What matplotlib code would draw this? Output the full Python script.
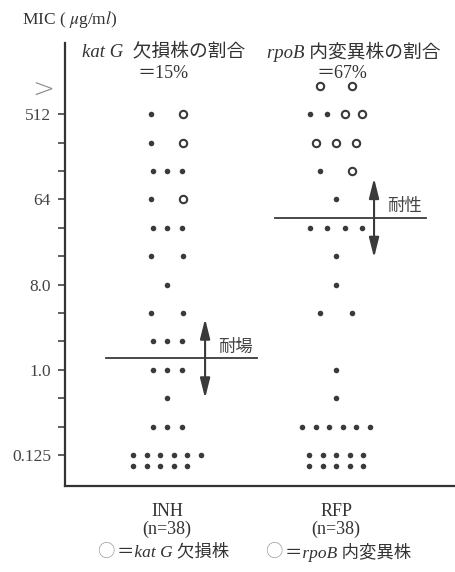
import numpy as np
import matplotlib.pyplot as plt

plt.rcParams['font.family'] = ['Liberation Serif', 'Noto Sans CJK JP']
plt.rcParams['mathtext.fontset'] = 'stix'

# MIC steps: 0 -> 0.125 ug/ml, each step doubles, 13 -> ">512"
levels = np.arange(14)
inh_filled = [11, 3, 1, 3, 3, 2, 1, 2, 3, 1, 3, 1, 1, 0]
inh_open = [0, 0, 0, 0, 0, 0, 0, 0, 0, 1, 0, 1, 1, 0]
rfp_filled = [10, 6, 1, 1, 0, 2, 1, 1, 4, 1, 1, 0, 2, 0]
rfp_open = [0, 0, 0, 0, 0, 0, 0, 0, 0, 0, 1, 3, 2, 2]
drugs = ['INH', 'RFP']
n_total = [38, 38]
breaks = [3.4, 8.35]
break_labels = ['耐場', '耐性']
tick_vals = [0.125, 1.0, 8.0, 64, 512]
tick_text = ['0.125', '1.0', '8.0', '64', '512']

dark = '#3a3a3a'
W, H = 456, 572

fig = plt.figure(figsize=(W / 100, H / 100), dpi=100)
ax = fig.add_axes([65 / W, 1 - 486 / H, 1 - 65 / W, (486 - 43) / H])
ax.set_xlim(0.396, 2.71)
ax.set_ylim(-1.09, 14.51)

px = 1 / 169.  # x units per pixel


def gap(n, has_open):
    if n == 2:
        return 32 * px
    if n == 3:
        return (20 if has_open else 14.5) * px
    if n == 4:
        return 17.5 * px
    return 13.5 * px


for ci, (filled, opened) in enumerate([(inh_filled, inh_open), (rfp_filled, rfp_open)]):
    c = ci + 1
    for lv, nf, no in zip(levels, filled, opened):
        n = nf + no
        if n == 0:
            continue
        kinds = np.array([0] * nf + [1] * no)
        if n > 6:
            per = int(np.ceil(n / 2.))
            rows = [kinds[:per], kinds[per:]]
        else:
            rows = [kinds]
        g = gap(len(rows[0]), no > 0)
        x0 = c - (len(rows[0]) - 1) / 2. * g
        for r, row in enumerate(rows):
            xs = x0 + g * np.arange(len(row))
            ys = np.full(len(row), lv - 0.4 * r)
            ax.plot(xs[row == 0], ys[row == 0], 'o', ms=4, color=dark, mew=0)
            ax.plot(xs[row == 1], ys[row == 1], 'o', ms=5.3, mfc='white',
                    mec=dark, mew=1.5)

# breakpoints
for ci, (b, lab) in enumerate(zip(breaks, break_labels)):
    c = ci + 1
    ax.plot([c - 0.36, c + 0.53], [b, b], color=dark, lw=1.3)
    ax.annotate('', xy=(c + 0.225, b + 1.4), xytext=(c + 0.225, b - 1.4),
                arrowprops=dict(arrowstyle='<|-|>,head_length=1.2,head_width=0.3',
                                color=dark, lw=1.5, shrinkA=0, shrinkB=0))
    ax.text(c + 0.30, b + 0.42, lab, fontsize=12.5, color='#444',
            ha='left', va='center', family='Noto Sans CJK JP')

# axes
for s in ['top', 'right']:
    ax.spines[s].set_visible(False)
for s in ['left', 'bottom']:
    ax.spines[s].set_linewidth(1.6)
    ax.spines[s].set_color('#333')

ax.set_yticks(np.log2(np.array(tick_vals) / 0.125), tick_text)
ax.set_yticks(np.arange(13), minor=True)
ax.tick_params(axis='y', which='both', length=5, width=1.1, color='#333',
               direction='out')
ax.tick_params(axis='y', labelsize=12.5, labelcolor='#444', pad=5)
ax.text(-0.028, 12.85, '>', transform=ax.get_yaxis_transform(), ha='right',
        va='center', fontsize=19, color='#888', family='DejaVu Sans',
        fontweight='ultralight')

ax.set_xticks([1, 2], ['%s\n(n=%d)' % (d, n) for d, n in zip(drugs, n_total)])
ax.tick_params(axis='x', length=0, pad=12, labelsize=13, labelcolor='#333')
for t in ax.get_xticklabels():
    t.set_linespacing(1.08)

# texts
fig.text(22 / W, 1 - 19 / H, r'MIC ( $\mu$g/m$l$)', fontsize=12.5, color='#333',
         ha='left', va='center')
fig.text(82 / W, 1 - 51 / H, 'kat G  欠損株の割合', style='italic', fontsize=13.5,
         color='#333', ha='left', va='center')
fig.text(163 / W, 1 - 73 / H, '＝15%', fontsize=13, color='#333', ha='center',
         va='center')
fig.text(267 / W, 1 - 52 / H, 'rpoB 内変異株の割合', style='italic', fontsize=13.5,
         color='#333', ha='left', va='center')
fig.text(342 / W, 1 - 73 / H, '＝67%', fontsize=13, color='#333', ha='center',
         va='center')

# legend
fig.text(97 / W, 1 - 552 / H, '○', family='Noto Sans CJK JP', fontsize=12.5,
         color='#999', ha='left', va='center')
fig.text(117 / W, 1 - 552 / H, '＝kat G 欠損株', style='italic', fontsize=12.5,
         color='#333', ha='left', va='center')
fig.text(265 / W, 1 - 552 / H, '○', family='Noto Sans CJK JP', fontsize=12.5,
         color='#999', ha='left', va='center')
fig.text(285 / W, 1 - 552 / H, '＝rpoB 内変異株', style='italic', fontsize=12.5,
         color='#333', ha='left', va='center')

fig.savefig('out.png', dpi=100)
